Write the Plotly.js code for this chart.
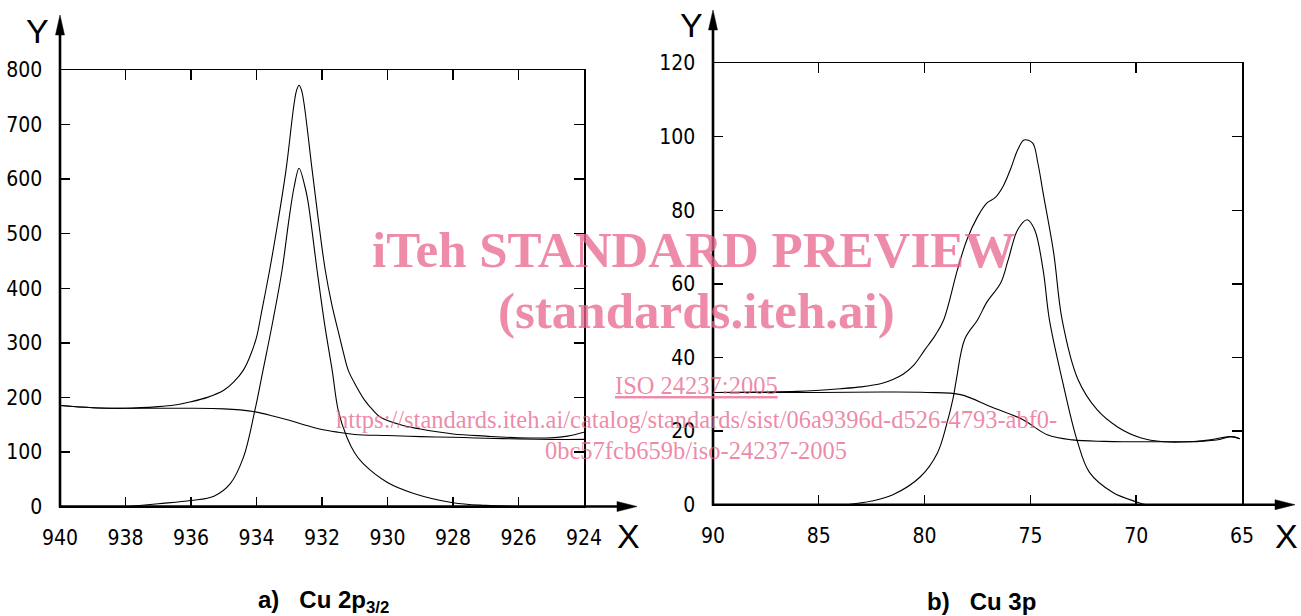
<!DOCTYPE html>
<html>
<head>
<meta charset="utf-8">
<script src="https://cdn.plot.ly/plotly-3.0.1.min.js"></script>
<style>html,body{margin:0;padding:0;background:#fff}#chart{width:1301px;height:616px}</style>
</head>
<body>
<div id="chart"></div>
<script>
// ---- Data: a) Cu 2p3/2 ----
const aEnvX = [940, 939, 938, 937, 936.5, 936, 935.5, 935, 934.7, 934.4, 934.2, 934, 933.85, 933.6, 933.35, 933.1, 932.85, 932.77, 932.7, 932.63, 932.55, 932.3, 932.1, 931.9, 931.7, 931.5, 931.35, 931.2, 930.95, 930.7, 930.45, 930.2, 929.5, 929, 928, 927, 926, 925, 924.5, 924];
const aEnvY = [185, 181, 180, 183, 186, 192, 200, 213, 228, 250, 275, 310, 355, 433, 520, 616, 739, 764, 772, 764, 739, 616, 520, 433, 370, 320, 283, 250, 220, 195, 177, 163, 148, 142, 133, 129, 126, 126, 129, 136];
const aSubX = [937.9, 937, 936, 935.3, 934.8, 934.4, 934.05, 933.8, 933.5, 933.22, 933, 932.85, 932.7, 932.52, 932.43, 932.15, 931.91, 931.69, 931.5, 931.24, 931, 930.75, 930, 929.2, 928, 927, 926, 925, 924];
const aSubY = [0, 5, 11, 19, 42, 90, 176, 250, 340, 433, 530, 586, 620, 586, 560, 433, 330, 250, 175, 127, 98, 79, 44, 24, 7, 2, 0, 0, 0];
const aBgX = [940, 939, 938, 937, 936, 935, 934.5, 934, 933.5, 933, 932.5, 932, 931.5, 931, 930, 929, 928, 927, 926, 925, 924];
const aBgY = [185, 181, 180, 180, 180, 179, 177, 173, 166, 158, 149, 141, 136, 132, 130, 128, 127, 125, 124, 123, 123];
const aXTicks = [940, 938, 936, 934, 932, 930, 928, 926, 924];
const aYTicks = [0, 100, 200, 300, 400, 500, 600, 700, 800];

// ---- Data: b) Cu 3p ----
const bEnvX = [90, 88, 86, 84, 83, 82, 81.5, 81, 80.5, 80, 79.5, 79.1, 78.45, 78, 77.5, 77.05, 76.67, 76.3, 75.95, 75.6, 75.3, 74.9, 74.65, 74.4, 73.9, 73.5, 72.75, 71.85, 70.9, 69.8, 68.7, 67.45, 66.5, 65.55, 65.1];
const bEnvY = [30.5, 30.6, 30.8, 31.5, 32, 33, 34, 35.5, 38, 42, 46, 50.2, 63.8, 72, 78.2, 82, 83.4, 86.4, 91, 96.4, 99.1, 98.3, 92.9, 84.7, 68.4, 50.2, 34, 25.8, 21.2, 18.2, 17.1, 17.1, 17.6, 18.5, 17.9];
const bSubX = [83.7, 82.5, 81.5, 80.2, 79.4, 78.95, 78.65, 78.5, 78.1, 77.5, 77.05, 76.4, 76.05, 75.6, 75.15, 74.8, 74.4, 74.1, 73.5, 72.8, 72.2, 71.1, 70.0, 69.5, 65];
const bSubY = [0, 1, 2.7, 7.6, 14, 22, 29, 34, 45, 50.2, 55.1, 60.3, 66.5, 74.7, 77.4, 74.7, 63.8, 50.2, 34, 17.6, 8.7, 3.3, 0.8, 0, 0];
const bBgX = [90, 85, 82, 79.9, 78.3, 76.9, 75.35, 74.2, 73, 71.5, 70.6, 69, 68, 67, 66, 65.5, 65.1];
const bBgY = [30.5, 30.5, 30.6, 30.5, 29.9, 26.7, 23.1, 19, 17.6, 17.2, 17.1, 17.1, 17.1, 17.2, 17.8, 18.5, 17.9];
const bXTicks = [90, 85, 80, 75, 70, 65];
const bYTicks = [0, 20, 40, 60, 80, 100, 120];

// ---- Texts ----
const titleA = "a)\u00a0\u00a0\u00a0Cu 2p<sub>3/2</sub>";
const titleB = "b)\u00a0\u00a0\u00a0Cu 3p";
const wm1 = "iTeh STANDARD PREVIEW";
const wm2 = "(standards.iteh.ai)";
const wm3 = "<u>ISO 24237:2005</u>";
const wm4 = "https://standards.iteh.ai/catalog/standards/sist/06a9396d-d526-4793-abf0-";
const wm5 = "0bc57fcb659b/iso-24237-2005";

const W = 1301, H = 616;
const px = v => v / W;
const py = v => 1 - v / H;

const lineStyle = {color: '#000', width: 1.1, shape: 'spline', smoothing: 1};
function tr(x, y, xa, ya) {
  return {x: x, y: y, xaxis: xa, yaxis: ya, mode: 'lines', line: lineStyle, hoverinfo: 'skip', showlegend: false};
}
const data = [
  tr(aBgX, aBgY, 'x', 'y'), tr(aEnvX, aEnvY, 'x', 'y'), tr(aSubX, aSubY, 'x', 'y'),
  tr(bBgX, bBgY, 'x2', 'y2'), tr(bEnvX, bEnvY, 'x2', 'y2'), tr(bSubX, bSubY, 'x2', 'y2')
];

const tickFont = {family: 'DejaVu Sans Condensed, DejaVu Sans, sans-serif', size: 21, color: '#000'};
function xax(dom, rng, ticks, anchor) {
  return {domain: dom, range: rng, tickvals: ticks, ticktext: ticks.map(String), anchor: anchor,
    showline: true, linewidth: 1.5, linecolor: '#000', mirror: 'ticks', ticks: 'inside', ticklen: 10,
    tickwidth: 1.4, tickcolor: '#000', showgrid: false, zeroline: false, tickfont: tickFont,
    ticklabelstandoff: 12, fixedrange: true};
}
function yax(dom, rng, ticks, anchor) {
  return {domain: dom, range: rng, tickvals: ticks, ticktext: ticks.map(String), anchor: anchor,
    showline: true, linewidth: 1.5, linecolor: '#000', mirror: 'ticks', ticks: 'inside', ticklen: 10,
    tickwidth: 1.4, tickcolor: '#000', showgrid: false, zeroline: false, tickfont: tickFont,
    ticklabelstandoff: 12, fixedrange: true};
}

// Pixel geometry of the two plot frames
const A = {l: 60, r: 584, t: 70, b: 506.5};
const B = {l: 713, r: 1242, t: 63, b: 504.7};

function axisShapes(F, yTip, xTip) {
  const lw = 2.6;
  return [
    {type: 'line', xref: 'paper', yref: 'paper', x0: px(F.l), x1: px(F.l), y0: py(F.b + 1), y1: py(yTip + 18), line: {color: '#000', width: lw}},
    {type: 'line', xref: 'paper', yref: 'paper', x0: px(F.l - 1), x1: px(xTip - 18), y0: py(F.b), y1: py(F.b), line: {color: '#000', width: lw}},
    {type: 'path', xref: 'paper', yref: 'paper', fillcolor: '#000', line: {color: '#000', width: 0.5},
      path: `M ${px(F.l)},${py(yTip)} L ${px(F.l - 4.5)},${py(yTip + 20)} L ${px(F.l + 4.5)},${py(yTip + 20)} Z`},
    {type: 'path', xref: 'paper', yref: 'paper', fillcolor: '#000', line: {color: '#000', width: 0.5},
      path: `M ${px(xTip)},${py(F.b)} L ${px(xTip - 20)},${py(F.b - 5)} L ${px(xTip - 20)},${py(F.b + 5)} Z`}
  ];
}

function ann(text, x, y, font, extra) {
  return Object.assign({text: text, xref: 'paper', yref: 'paper', x: px(x), y: py(y), showarrow: false,
    xanchor: 'center', yanchor: 'middle', font: font}, extra || {});
}
const xyFont = {family: 'Liberation Sans, Arial, sans-serif', size: 34, color: '#000'};
const titleFont = {family: 'Liberation Sans, Arial, sans-serif', size: 24, color: '#000', weight: 'bold'};
const wmColor = 'rgba(232,100,140,0.75)';
const wmBig = {family: 'Liberation Serif, Times New Roman, serif', size: 51, color: wmColor, weight: 'bold'};
const wmSmall = {family: 'Liberation Serif, Times New Roman, serif', size: 24.5, color: wmColor};

const layout = {
  width: W, height: H, margin: {l: 0, r: 0, t: 0, b: 0},
  paper_bgcolor: '#fff', plot_bgcolor: 'rgba(0,0,0,0)', showlegend: false,
  xaxis: xax([px(A.l), px(A.r)], [940, 924], aXTicks, 'y'),
  yaxis: yax([py(A.b), py(A.t)], [0, 800], aYTicks, 'x'),
  xaxis2: xax([px(B.l), px(B.r)], [90, 65], bXTicks, 'y2'),
  yaxis2: yax([py(B.b), py(B.t)], [0, 120], bYTicks, 'x2'),
  shapes: [].concat(axisShapes(A, 15, 637), axisShapes(B, 10, 1295)),
  annotations: [
    ann('Y', 37, 31, xyFont), ann('X', 628, 536, xyFont),
    ann('Y', 691, 25, xyFont), ann('X', 1286, 536, xyFont),
    ann(titleA, 323, 601, titleFont), ann(titleB, 981, 601, titleFont),
    ann(wm1, 693, 250, wmBig), ann(wm2, 696, 311, wmBig),
    ann(wm3, 696, 385, wmSmall), ann(wm4, 696, 420, wmSmall), ann(wm5, 696, 451, wmSmall)
  ]
};

Plotly.newPlot('chart', data, layout, {staticPlot: true, displayModeBar: false});
</script>
</body>
</html>
